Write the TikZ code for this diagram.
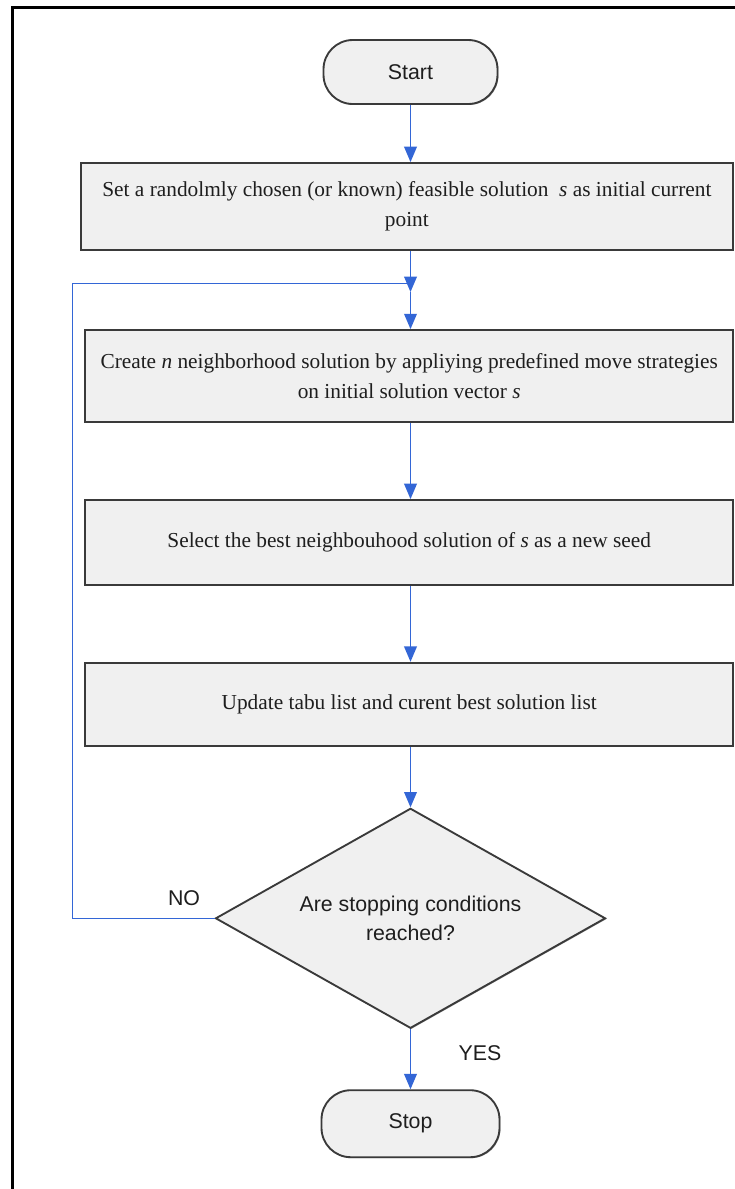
\documentclass[tikz,border=0pt]{standalone}
\usepackage{fontspec}
\setmainfont{Liberation Serif}
\setsansfont{Liberation Sans}
\usetikzlibrary{arrows.meta,shapes.geometric,shadows}

\definecolor{flowblue}{HTML}{3366D6}
\definecolor{boxfill}{HTML}{F0F0F0}
\definecolor{boxline}{HTML}{3A3A3A}
\definecolor{inktext}{HTML}{1E1E1E}

\tikzset{
  base/.style={draw=boxline, line width=1.4pt, fill=boxfill, inner sep=0pt,
    text=inktext,
    drop shadow={shadow xshift=0.7pt, shadow yshift=-0.7pt, fill=black!60, opacity=0.6}},
  terminal/.style={base, rectangle, rounded corners=22pt,
    font=\sffamily\fontsize{16}{22}\selectfont},
  process/.style={base, rectangle, align=center,
    font=\fontsize{16}{22.5}\selectfont},
  decision/.style={base, diamond, aspect=1.77, minimum width=292.5pt,
    minimum height=165pt, align=center,
    font=\sffamily\fontsize{16}{22}\selectfont},
  flow/.style={draw=flowblue, line width=1.1pt},
  arrow/.style={flow, -{Triangle[width=9.5pt,length=11.5pt]}},
  answer/.style={font=\sffamily\fontsize{16}{20}\selectfont, inner sep=0pt, text=inktext},
}

\begin{document}
\begin{tikzpicture}[x=0.75pt, y=-0.75pt]
  % page and outer frame
  \useasboundingbox (0,0) rectangle (735,1189);
  \fill[white] (0,0) rectangle (735,1189);
  \draw[line width=2.2pt, black] (12.5,1189) -- (12.5,7.5) -- (735,7.5);

  % flowchart blocks
  \node[terminal, minimum width=130.5pt, minimum height=48pt] (start) at (410.5,72) {Start};
  \node[process, minimum width=489.2pt, minimum height=65.25pt] (b1) at (406.9,206.5)
    {Set a randolmly chosen (or known) feasible solution~ \textit{s} as initial current\\point};
  \node[process, minimum width=485.8pt, minimum height=68.8pt] (b2) at (409.2,375.9)
    {Create \textit{n} neighborhood solution by appliying predefined move strategies\\on initial solution vector \textit{s}};
  \node[process, minimum width=485.8pt, minimum height=63.75pt] (b3) at (409.2,542.5)
    {Select the best neighbouhood solution of \textit{s} as a new seed};
  \node[process, minimum width=485.8pt, minimum height=62.5pt] (b4) at (409.2,704.4)
    {Update tabu list and curent best solution list};
  \node[decision] (d) at (410.5,918.3) {Are stopping conditions\\reached?};
  \node[terminal, minimum width=133.5pt, minimum height=50.25pt] (stop) at (410.5,1123.7) {Stop};

  % branch labels
  \node[answer] (no) at (184,897.7) {NO};
  \node[answer] (yes) at (480,1052.7) {YES};

  % junction where the loop re-enters the main line
  \coordinate (j) at (410.5,292);
  \coordinate (loopend) at (410.5,283.3);

  % connectors
  \draw[arrow] (start.south) -- (start.south |- b1.north);
  \draw[arrow] (b1.south -| start) -- (j);
  \draw[arrow] (j) -- (j |- b2.north);
  \draw[arrow] (b2.south -| start) -- (b3.north -| start);
  \draw[arrow] (b3.south -| start) -- (b4.north -| start);
  \draw[arrow] (b4.south -| start) -- (d.north);
  \draw[arrow] (d.south) -- (stop.north);
  \draw[flow] (d.west) -- ++(-142,0) |- (loopend);
\end{tikzpicture}
\end{document}
